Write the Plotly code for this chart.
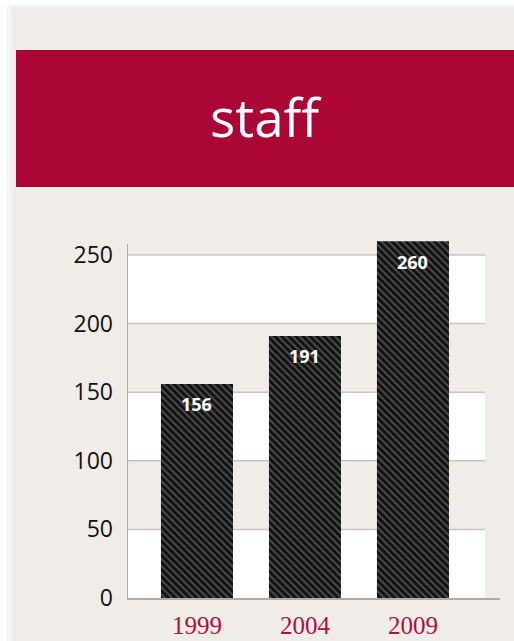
import plotly.graph_objects as go

categories = ["1999", "2004", "2009"]
values = [156, 191, 260]
y_ticks = [0, 50, 100, 150, 200, 250]
title_text = "staff"

W, H = 514, 641
FIG_H = 656  # compensates for the vertical squeeze seen in the capture
K = FIG_H / H
RED = "#ab0535"
BEIGE = "#f0ede8"
GRID = "#cbc3bc"
AXIS = "#b5aaa2"

def px_x(x):
    return x / W

def px_y(y):
    return 1 - y / H

x_range = [-0.648, 2.806]
band_right = 2.667
y_top = 270
axis_top = 258
scale = (598 - 255) / 250.0
dom_top_px = 598 - y_top * scale

fig = go.Figure()
fig.add_trace(go.Bar(
    x=list(range(len(categories))), y=values, width=0.667,
    marker=dict(color="#111111", line=dict(width=0),
                pattern=dict(shape="\\", fgcolor="#8a8a8a", bgcolor="#111111",
                             size=5, solidity=0.4)),
    hoverinfo="skip",
))

shapes = []
# shadow + panel
for inset, a in [(3, 0.015), (6, 0.025), (9, 0.035)]:
    shapes.append(dict(type="rect", xref="paper", yref="paper", x0=px_x(16 - inset), x1=1, y0=0,
                       y1=px_y(11 - inset * 0.8), fillcolor=f"rgba(0,0,0,{a})", line=dict(width=0), layer="below"))
shapes.append(dict(type="rect", xref="paper", yref="paper", x0=px_x(16), x1=1, y0=0, y1=px_y(11),
                   fillcolor=BEIGE, line=dict(width=0), layer="below"))
shapes.append(dict(type="rect", xref="paper", yref="paper", x0=px_x(16), x1=1, y0=px_y(187), y1=px_y(50),
                   fillcolor=RED, line=dict(width=0), layer="below"))
# white bands
for lo, hi in [(0, 50), (100, 150), (200, 250)]:
    shapes.append(dict(type="rect", xref="x", yref="y", x0=x_range[0], x1=band_right, y0=lo, y1=hi,
                       fillcolor="white", line=dict(width=0), layer="below"))
for t in y_ticks[1:]:
    shapes.append(dict(type="line", xref="x", yref="y", x0=x_range[0], x1=band_right, y0=t, y1=t,
                       line=dict(color=GRID, width=1.5), layer="below"))
# y axis line
shapes.append(dict(type="line", xref="x", yref="y", x0=x_range[0], x1=x_range[0], y0=0, y1=axis_top,
                   line=dict(color=AXIS, width=2), layer="below"))

annotations = [dict(x=i, y=v, text=f"<b>{v}</b>", showarrow=False, yshift=-20 * K,
                    font=dict(family="Open Sans", size=18, color="white"))
               for i, v in enumerate(values)]
annotations.append(dict(x=px_x(266), y=px_y(117), xref="paper", yref="paper", text=title_text,
                        showarrow=False, font=dict(family="Open Sans", size=53, color="white"),
                        xanchor="center", yanchor="middle"))

fig.update_layout(
    width=W, height=FIG_H, margin=dict(l=0, r=0, t=0, b=0),
    paper_bgcolor="white", plot_bgcolor="rgba(0,0,0,0)",
    showlegend=False, shapes=shapes, annotations=annotations,
    xaxis=dict(domain=[px_x(127), px_x(500)], range=x_range,
               tickmode="array", tickvals=list(range(len(categories))), ticktext=categories,
               tickfont=dict(family="Liberation Serif", size=25, color="#b0103f"),
               showgrid=False, zeroline=False, showline=True, linecolor=AXIS, linewidth=2,
               ticks="", ticklabelstandoff=4),
    yaxis=dict(domain=[px_y(598), px_y(dom_top_px)], range=[0, y_top],
               tickmode="array", tickvals=y_ticks,
               tickfont=dict(family="Open Sans", size=23, color="#111111"),
               showgrid=False, zeroline=False, showline=False,
               ticks="", ticklabelstandoff=13),
)

fig.write_html(
    "out.html",
    config={"displayModeBar": False},
    post_script=(
        "document.documentElement.style.margin='0';document.documentElement.style.padding='0';"
        "document.documentElement.style.overflow='hidden';"
        "document.body.style.margin='0';document.body.style.padding='0';"
        "document.body.style.overflow='hidden';"
    ),
)
